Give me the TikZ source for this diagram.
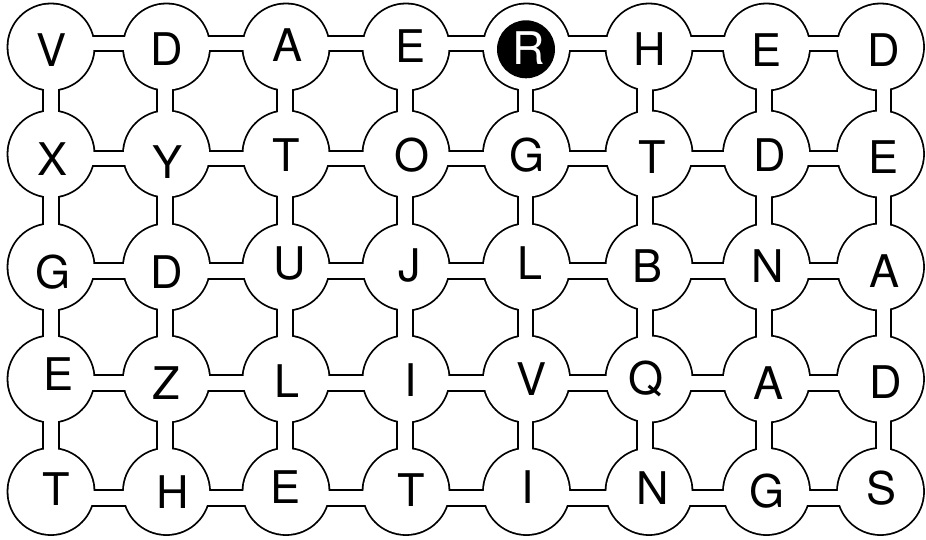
\documentclass[tikz,border=0pt]{standalone}
\usepackage{fontspec}
\setmainfont{TeX Gyre Heros}
\usetikzlibrary{calc}
\tikzset{
  outerpipe/.style={line width=17.4pt, draw=black, line cap=butt},
  innerpipe/.style={line width=13.8pt, draw=white, line cap=butt},
  letter/.style={inner sep=0pt, anchor=base, font=\fontsize{45pt}{45pt}\selectfont},
  startdisk/.style={fill=black}
}
\begin{document}
\begin{tikzpicture}[x=1pt, y=-1pt]
\useasboundingbox (0,0) rectangle (926,540);
\fill[white] (0,0) rectangle (926,540);
% cell centres
\foreach \cx [count=\i from 0] in {51,166.5,286,406,526.5,649,766.5,880.5}{
  \foreach \cy [count=\j from 0] in {47,154,267,379,491.5}{
    \coordinate (p-\i-\j) at (\cx,\cy);
  }
}
% black layer
\foreach \j/\o in {0/-3.5,1/4.5,2/4,3/4,4/6.5}{
  \foreach \i [evaluate=\i as \k using {int(\i+1)}] in {0,...,6}{
    \draw[outerpipe] ($(p-\i-\j)+(0,\o)$) -- ($(p-\k-\j)+(0,\o)$);
  }
}
\foreach \i/\d in {0/0,1/-1.5,2/-1,3/-1,4/-1,5/-4,6/-2.5,7/3}{
  \foreach \j [evaluate=\j as \k using {int(\j+1)}] in {0,...,3}{
    \draw[outerpipe] ($(p-\i-\j)+(\d,0)$) -- ($(p-\i-\k)+(\d,0)$);
  }
}
\foreach \i in {0,...,7}{
  \foreach \j in {0,...,4}{
    \fill[black] (p-\i-\j) circle [radius=44.4pt];
  }
}
% white layer
\foreach \j/\o in {0/-3.5,1/4.5,2/4,3/4,4/6.5}{
  \foreach \i [evaluate=\i as \k using {int(\i+1)}] in {0,...,6}{
    \draw[innerpipe] ($(p-\i-\j)+(0,\o)$) -- ($(p-\k-\j)+(0,\o)$);
  }
}
\foreach \i/\d in {0/0,1/-1.5,2/-1,3/-1,4/-1,5/-4,6/-2.5,7/3}{
  \foreach \j [evaluate=\j as \k using {int(\j+1)}] in {0,...,3}{
    \draw[innerpipe] ($(p-\i-\j)+(\d,0)$) -- ($(p-\i-\k)+(\d,0)$);
  }
}
\foreach \i in {0,...,7}{
  \foreach \j in {0,...,4}{
    \fill[white] (p-\i-\j) circle [radius=42.6pt];
  }
}
% start cell
\fill[startdisk] (526,49.3) circle [radius=29pt];
% letters
\foreach \n/\x/\y/\t in {
  a0/51.7/50.8/V, a1/166.7/49/D, a2/287.5/45/A, a3/410.5/46.5/E, a5/650/49/H, a6/766/50/E, a7/883.3/50/D,
  b0/52.5/159/X, b1/168/162.5/Y, b2/286.3/155.5/T, b3/411.7/155/O, b4/526.7/155/G, b5/652/157.5/T, b6/770/155/D, b7/883.8/157.8/E,
  c0/52.8/272.5/G, c1/167/272/D, c2/289.7/263/U, c3/409.7/265.5/J, c4/529.7/263/L, c5/647.5/266/B, c6/768/266/N, c7/884/271.7/A,
  d0/58.7/374.5/E, d1/166/383/Z, d2/287.5/381/L, d3/410.8/380.5/I, d4/532/379/V, d5/645.8/378/Q, d6/768/383/A, d7/885.8/382.8/D,
  e0/56.7/489.5/T, e1/172.7/492.8/H, e2/285.8/487/E, e3/410.8/490/T, e4/527.5/487/I, e5/653/488/N, e6/766.7/491.7/G, e7/881.7/488/S}{
  \node[letter] (t-\n) at (\x,\y+16.1) {\t};
}
\node[letter, text=white] (t-a4) at (528.3,48+16.1) {R};
\end{tikzpicture}
\end{document}
